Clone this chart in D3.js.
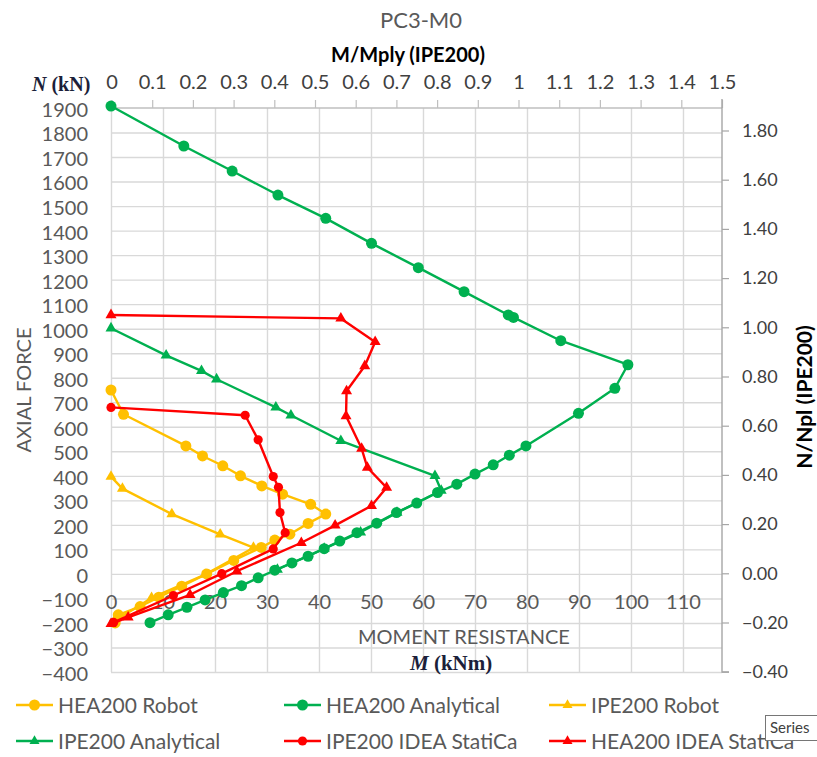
<!DOCTYPE html>
<html><head><meta charset="utf-8">
<script src="https://cdn.jsdelivr.net/npm/d3@7/dist/d3.min.js"></script>
<style>
body{margin:0;background:#fff;}
svg{display:block;font-family:Lato,'Open Sans',sans-serif;}
</style></head><body>
<svg id="chart" width="817" height="757"></svg>
<script>
// ---- tick labels ----
const momentTicks = [0,10,20,30,40,50,60,70,80,90,100,110];
const axialTicks = [-400,-300,-200,-100,0,100,200,300,400,500,600,700,800,900,1000,1100,1200,1300,1400,1500,1600,1700,1800,1900];
const ratioMTicks = [0,0.1,0.2,0.3,0.4,0.5,0.6,0.7,0.8,0.9,1,1.1,1.2,1.3,1.4,1.5];
const ratioNTicks = [-0.4,-0.2,0,0.2,0.4,0.6,0.8,1.0,1.2,1.4,1.6,1.8];

// ---- series: [M (kNm), N (kN)] ----
const hea200Robot = [[0,750],[2.4,651],[14.4,522],[17.6,481],[21.5,441],[24.9,400],[29,359],[33,325],[38.4,284],[41.3,244],[37.9,206],[34.4,162],[31.5,138],[28.9,108],[23.6,55],[18.4,0],[13.6,-50],[9.2,-95],[5.6,-133],[1.4,-167],[0.8,-200]];
const hea200Analytical = [[0,1908],[14,1745],[23.3,1643],[32.1,1545],[41.3,1450],[50.1,1348],[59.1,1249],[67.9,1151],[76.4,1056],[77.4,1046],[86.5,951],[99.4,853],[96.9,757],[89.9,655],[79.8,522],[76.6,484],[73.5,445],[70,407],[66.5,366],[62.8,332],[58.8,289],[54.9,250],[51.1,207],[47.3,168],[44,134],[41,103],[37.9,72],[34.8,45],[31.5,15],[28.3,-16],[25.1,-48],[21.6,-76],[18.1,-106],[14.6,-136],[11,-167],[7.5,-199]];
const ipe200Robot = [[0,397],[2.2,348],[11.7,244],[21,161],[27.4,107],[18.1,-3],[7.8,-98],[0.6,-193]];
const ipe200Analytical = [[0,1002],[10.6,891],[17.4,828],[20.3,794],[31.7,679],[34.6,647],[44.2,543],[62.3,400],[63.5,340],[55,250],[48,170],[41,103],[32,18]];
const ipe200Idea = [[0,679],[25.8,647],[28.3,547],[31.2,397],[32.2,353],[32.5,250],[33.5,168],[31.2,102],[21.3,1],[12,-88],[0.5,-198]];
const hea200Idea = [[0,1056],[44.2,1042],[50.8,946],[48.8,848],[45.3,746],[45.2,644],[48.2,511],[49.3,434],[53,352],[50.1,278],[43.1,198],[36.6,127],[24.2,11],[15.2,-85],[3.3,-177],[0,-204]];

const seriesNames = ["HEA200 Robot","HEA200 Analytical","IPE200 Robot","IPE200 Analytical","IPE200 IDEA StatiCa","HEA200 IDEA StatiCa"];
const seriesData = [hea200Robot,hea200Analytical,ipe200Robot,ipe200Analytical,ipe200Idea,hea200Idea];
const seriesColors = ["#FFC000","#00B050","#FFC000","#00B050","#FF0000","#FF0000"];
const seriesMarkers = ["circle","circle","triangle","triangle","circle","triangle"];
const markerSizes = [5.5,5.5,11,11,4.6,11];

// ---- layout ----
const L = 111, R = 722, T = 108, B = 672;
const svg = d3.select("#chart");
svg.append("rect").attr("width",817).attr("height",757).attr("fill","#fff");

const x = d3.scaleLinear().domain([0,117.5]).range([L,R]);
const y = d3.scaleLinear().domain([-400,1900]).range([B,T]);
const xTop = d3.scaleLinear().domain([0,1.5]).range([L+0.5,R]);
const yRight = d3.scaleLinear().domain([-0.4,1.8]).range([671.7,130.5]);

// gridlines
const grid = svg.append("g");
grid.append("g").attr("transform",`translate(${L},0)`)
  .call(d3.axisLeft(y).tickValues(axialTicks.filter(v=>v<1900)).tickSize(-(R-L)).tickFormat(""))
  .call(g=>g.select(".domain").remove())
  .call(g=>g.selectAll("line").attr("stroke","#d9d9d9").attr("stroke-width",1.4));
grid.append("g").attr("transform",`translate(0,${B})`)
  .call(d3.axisBottom(x).tickValues(momentTicks).tickSize(-(B-T)).tickFormat(""))
  .call(g=>g.select(".domain").remove())
  .call(g=>g.selectAll("line").attr("stroke","#d9d9d9").attr("stroke-width",1.4));

// top axis (M/Mply)
const topAx = svg.append("g").attr("transform",`translate(0,${T})`)
  .call(d3.axisTop(xTop).tickValues(ratioMTicks).tickSize(8).tickPadding(11).tickFormat(d=>d3.format("~g")(d)));
topAx.select(".domain").attr("stroke","#bfbfbf").attr("stroke-width",1.4).attr("d",`M${L},0H${R}`);
topAx.selectAll("line").attr("stroke","#bfbfbf").attr("stroke-width",1.2);
topAx.selectAll("text").attr("font-size",20).attr("fill","#404040").attr("font-family","Lato");

// right axis (N/Npl)
const rAx = svg.append("g").attr("transform",`translate(${R},0)`)
  .call(d3.axisRight(yRight).tickValues(ratioNTicks).tickSize(7).tickPadding(13).tickFormat(d3.format(".2f")));
rAx.select(".domain").attr("stroke","#a6a6a6").attr("stroke-width",1.4).attr("d","M0,99V672H7");
rAx.selectAll("line").attr("stroke","#a6a6a6").attr("stroke-width",1.2);
rAx.selectAll("text").attr("font-size",18).attr("fill","#404040").attr("font-family","Lato");

// left labels (N kN)
const lAx = svg.append("g").attr("transform",`translate(${L},0)`)
  .call(d3.axisLeft(y).tickValues(axialTicks).tickSize(0).tickPadding(23).tickFormat(d3.format("d")));
lAx.select(".domain").remove();
lAx.selectAll("text").attr("font-size",20).attr("fill","#595959").attr("font-family","Lato").attr("dy","0.42em");

// bottom labels (M kNm) drawn inside plot at N=-100 row
const bAx = svg.append("g").attr("transform",`translate(0,595)`)
  .call(d3.axisBottom(x).tickValues(momentTicks).tickSize(0).tickPadding(0));
bAx.select(".domain").remove();
bAx.selectAll("text").attr("font-size",20).attr("fill","#595959").attr("font-family","Lato");

// series
const line = d3.line().x(d=>x(d[0])).y(d=>y(d[1]));
seriesData.forEach((data,i)=>{
  const g = svg.append("g");
  g.append("path").datum(data).attr("d",line).attr("fill","none")
    .attr("stroke",seriesColors[i]).attr("stroke-width",2.4).attr("stroke-linejoin","round");
  if(seriesMarkers[i]==="circle"){
    g.selectAll("circle").data(data).join("circle")
      .attr("cx",d=>x(d[0])).attr("cy",d=>y(d[1])).attr("r",markerSizes[i]).attr("fill",seriesColors[i]);
  } else {
    const s = markerSizes[i];
    const sym = d3.symbol(d3.symbolTriangle).size(Math.sqrt(3)/4*s*s);
    g.selectAll("path.m").data(data).join("path").attr("class","m")
      .attr("d",sym).attr("transform",d=>`translate(${x(d[0])},${y(d[1])})`).attr("fill",seriesColors[i]);
  }
});

// titles
svg.append("text").attr("x",421).attr("y",28).attr("text-anchor","middle")
  .attr("font-size",22).attr("fill","#595959").text("PC3-M0");
svg.append("text").attr("x",408).attr("y",62).attr("text-anchor","middle")
  .attr("font-size",20).attr("font-weight","bold").attr("fill","#000").text("M/Mply (IPE200)");
const nk = svg.append("text").attr("x",32).attr("y",91).attr("font-family","'Liberation Serif',serif")
  .attr("font-size",20).attr("font-weight","bold").attr("fill","#1c1f3a");
nk.append("tspan").attr("font-style","italic").text("N");
nk.append("tspan").text(" (kN)");
svg.append("text").attr("transform","translate(31,390) rotate(-90)").attr("text-anchor","middle")
  .attr("font-size",20).attr("fill","#595959").text("AXIAL FORCE");
svg.append("text").attr("transform","translate(812,397) rotate(-90)").attr("text-anchor","middle")
  .attr("font-size",21).attr("font-weight","bold").attr("fill","#000").text("N/Npl (IPE200)");
svg.append("text").attr("x",358).attr("y",644).attr("font-size",20).attr("fill","#595959").text("MOMENT RESISTANCE");
const mk = svg.append("text").attr("x",410).attr("y",670).attr("font-family","'Liberation Serif',serif")
  .attr("font-size",21).attr("font-weight","bold").attr("fill","#1c1f3a");
mk.append("tspan").attr("font-style","italic").text("M");
mk.append("tspan").text(" (kNm)");

// legend
const legX = [16,284,549], legY = [705,741];
seriesNames.forEach((name,i)=>{
  const cx = legX[i%3], cy = legY[Math.floor(i/3)];
  const g = svg.append("g");
  g.append("line").attr("x1",cx).attr("x2",cx+37).attr("y1",cy).attr("y2",cy)
    .attr("stroke",seriesColors[i]).attr("stroke-width",2.4);
  if(seriesMarkers[i]==="circle"){
    g.append("circle").attr("cx",cx+18.5).attr("cy",cy).attr("r",markerSizes[i]===4.6?4.6:5.5).attr("fill",seriesColors[i]);
  } else {
    const s = 10;
    g.append("path").attr("d",d3.symbol(d3.symbolTriangle).size(Math.sqrt(3)/4*s*s)())
      .attr("transform",`translate(${cx+18.5},${cy})`).attr("fill",seriesColors[i]);
  }
  g.append("text").attr("x",cx+42).attr("y",cy).attr("dy","0.36em")
    .attr("font-size",21).attr("fill","#595959").text(name);
});

// tooltip box
svg.append("rect").attr("x",765.5).attr("y",715.5).attr("width",60).attr("height",25)
  .attr("fill","#fff").attr("stroke","#767676");
svg.append("text").attr("x",770).attr("y",733).attr("font-size",15).attr("fill","#404040").text("Series");
</script>
</body></html>
